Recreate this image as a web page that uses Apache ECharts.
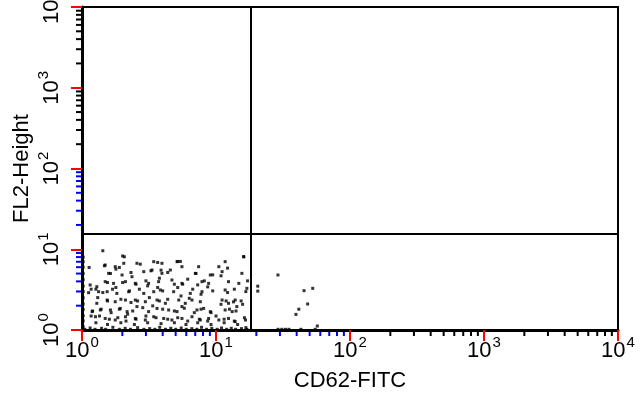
<!DOCTYPE html>
<html>
<head>
<meta charset="utf-8">
<script src="https://cdn.jsdelivr.net/npm/echarts@6/dist/echarts.min.js"></script>
<style>
  html, body { margin: 0; padding: 0; background: #fff; }
  #chart { width: 640px; height: 408px; }
</style>
</head>
<body>
<div id="chart"></div>
<script>
// CD62-FITC (x) / FL2-Height (y) events
const lowerLeft = [
  [1.43, 9.58], [2.07, 8.07], [2.72, 6.54], [3.67, 6.86], [5.18, 7.06], [5.42, 7.06],
  [16.1, 8.07], [1.47, 6.24], [1.90, 5.94], [1.79, 5.67], [2.32, 5.15], [1.63, 5.01],
  [3.27, 5.41], [3.89, 5.51], [4.36, 5.15], [7.09, 5.01], [9.45, 4.82], [6.15, 4.26],
  [8.18, 4.06], [10.9, 4.69], [12.2, 5.84], [1.13, 5.94], [1.55, 3.87], [2.01, 3.87],
  [2.53, 3.69], [3.00, 4.06], [3.78, 4.38], [4.89, 3.69], [5.64, 3.69], [7.30, 3.62],
  [17.2, 4.06], [1.17, 3.20], [1.27, 3.20], [1.43, 2.91], [1.69, 3.20], [1.79, 3.36],
  [2.26, 3.05], [2.68, 3.20], [3.09, 3.52], [3.67, 3.36], [4.00, 3.05], [5.18, 3.36],
  [6.70, 3.20], [8.67, 3.42], [12.2, 2.91], [13.7, 3.20], [16.7, 2.99], [1.31, 2.52],
  [1.55, 2.29], [1.95, 2.40], [2.32, 2.19], [2.60, 2.29], [3.18, 2.52], [3.78, 2.29],
  [4.36, 2.40], [5.48, 2.64], [6.32, 2.47], [7.73, 2.77], [9.45, 3.05], [11.9, 2.29],
  [13.5, 2.23], [15.4, 2.29], [1.20, 1.72], [1.39, 1.81], [1.65, 1.64], [1.90, 1.81],
  [2.19, 1.57], [2.39, 1.72], [2.84, 1.89], [3.37, 1.99], [4.00, 1.81], [4.89, 1.72],
  [5.80, 1.86], [6.89, 1.64], [7.73, 1.81], [9.18, 1.64], [10.9, 2.08], [12.6, 1.81],
  [14.1, 1.72], [15.8, 2.08], [1.17, 1.49], [1.35, 1.49], [1.60, 1.36], [1.85, 1.42],
  [2.13, 1.29], [2.53, 1.36], [3.00, 1.49], [3.57, 1.42], [4.36, 1.36], [5.18, 1.42],
  [6.15, 1.29], [7.51, 1.36], [8.67, 1.29], [10.0, 1.49], [11.5, 1.36], [13.7, 1.29],
  [16.3, 1.42], [1.27, 1.23], [1.55, 1.17], [1.95, 1.23], [2.46, 1.17], [3.09, 1.23],
  [3.89, 1.20], [4.89, 1.23], [5.97, 1.17], [7.30, 1.23], [9.18, 1.17], [11.5, 1.23],
  [14.5, 1.17], [16.7, 1.07]
]
const lowerLeftMore = [
  [2.01, 8.25], [1.49, 6.38], [1.77, 6.08], [2.05, 6.70], [2.57, 6.70], [3.43, 7.02],
  [3.95, 6.70], [5.12, 7.02], [5.57, 6.08], [7.42, 6.08], [10.5, 6.08], [16.1, 8.09],
  [11.7, 7.02], [1.58, 5.03], [1.99, 4.80], [2.36, 4.57], [2.89, 5.28], [3.33, 5.53],
  [3.95, 5.03], [4.56, 5.53], [7.01, 5.03], [9.07, 4.80], [11.1, 5.28], [15.6, 5.03],
  [1.49, 3.97], [1.72, 3.78], [2.11, 3.97], [2.50, 3.78], [3.14, 3.78], [3.73, 3.97],
  [4.69, 4.16], [5.57, 3.78], [7.86, 3.97], [8.81, 3.78], [12.4, 3.97], [14.8, 3.78],
  [1.15, 3.61], [1.29, 3.44], [1.12, 2.90], [1.33, 2.98], [1.54, 2.98], [1.82, 2.84],
  [2.23, 2.98], [2.89, 2.84], [3.43, 2.98], [3.84, 3.13], [4.83, 2.98], [6.43, 2.84],
  [7.86, 2.98], [11.7, 3.13], [17.0, 3.28], [1.29, 2.14], [1.54, 2.35], [1.77, 2.24],
  [2.11, 2.35], [2.50, 2.35], [2.97, 2.24], [3.63, 2.35], [4.19, 2.14], [5.27, 2.35],
  [5.90, 2.14], [6.62, 2.35], [7.64, 2.24], [11.1, 2.35], [12.4, 2.14], [13.9, 2.35],
  [1.19, 1.69], [1.37, 1.77], [1.63, 1.77], [1.93, 1.85], [2.17, 1.69], [2.57, 1.95],
  [3.14, 1.69], [3.63, 1.85], [4.43, 1.77], [5.12, 1.69], [5.57, 1.95], [7.21, 1.77],
  [8.09, 1.85], [9.07, 1.69], [11.7, 1.77], [13.2, 1.69], [14.3, 1.95], [1.26, 1.46],
  [1.49, 1.39], [1.77, 1.33], [2.11, 1.46], [2.50, 1.39], [2.97, 1.33], [3.43, 1.46],
  [4.07, 1.39], [4.69, 1.33], [5.57, 1.39], [6.62, 1.46], [7.64, 1.33], [8.81, 1.39],
  [10.5, 1.33], [12.4, 1.39], [13.9, 1.27], [16.6, 1.33]
]

// events piled on the axes (off-scale low)
const bottomEdge = [
  [1.05, 1.02], [1.15, 1.06], [1.25, 1.02], [1.4, 1.05], [1.5, 1.02], [1.7, 1.08],
  [1.9, 1.02], [2.1, 1.05], [2.3, 1.02], [2.6, 1.07], [2.9, 1.02], [3.2, 1.04],
  [3.5, 1.02], [3.8, 1.08], [4.2, 1.02], [4.6, 1.05], [5.0, 1.02], [5.5, 1.06],
  [6.0, 1.02], [6.6, 1.04], [7.2, 1.02], [7.8, 1.08], [8.5, 1.02], [9.3, 1.05],
  [10.2, 1.02], [11.0, 1.06], [12.0, 1.02], [13.0, 1.05], [14.0, 1.02], [15.5, 1.04],
  [17.0, 1.02], [29.0, 1.02], [31.0, 1.02], [33.0, 1.02], [35.0, 1.02], [43.0, 1.02],
  [55.0, 1.02]
]
const leftEdge = [
  [1.02, 1.1], [1.02, 1.3], [1.02, 1.5], [1.02, 1.8], [1.02, 2.1], [1.02, 2.5],
  [1.02, 3.0], [1.02, 3.5], [1.02, 4.2], [1.02, 5.0], [1.02, 6.0], [1.02, 7.0], [1.02, 8.0]
]
const lowerRight = [
  [20.5, 3.49], [20.5, 3.03], [29.0, 4.8], [45.4, 3.07], [52.7, 3.28], [48.3, 2.10],
  [41.5, 1.81], [39.5, 1.56], [57.0, 1.12]
]

// quadrant gate
const gateX = 18.2
const gateY = 15.5

// tick positions of the log axes
const decades = [1, 10, 100, 1000, 10000]
const minorTicks = [
  2, 3, 4, 5, 6, 7, 8, 9,
  20, 30, 40, 50, 60, 70, 80, 90,
  200, 300, 400, 500, 600, 700, 800, 900,
  2000, 3000, 4000, 5000, 6000, 7000, 8000, 9000
]

const font = 'Liberation Sans, Arial, sans-serif'
const decadeLabel = v => '{b|10}{s|' + Math.round(Math.log10(v)) + '}'
const labelRich = {
  b: { fontSize: 22, lineHeight: 22, fill: '#000', color: '#000', fontFamily: font, verticalAlign: 'bottom' },
  s: { fontSize: 15, lineHeight: 15, fill: '#000', color: '#000', fontFamily: font, verticalAlign: 'bottom', padding: [0, 0, 12, 1] }
}

function logAxis (name, extra) {
  return Object.assign({
    type: 'log',
    min: 1,
    max: 10000,
    name: name,
    nameLocation: 'middle',
    nameTextStyle: { fontSize: 22, color: '#000', fontFamily: font },
    axisLine: { lineStyle: { color: '#000', width: 3 } },
    axisTick: { show: true, length: 11, lineStyle: { color: '#f00', width: 2 } },
    splitLine: { show: false }
  }, extra)
}

const chart = echarts.init(document.getElementById('chart'))
chart.setOption({
  animation: false,
  grid: {
    left: 82, right: 22, top: 7, bottom: 78,
    outerBoundsMode: 'none',
    show: true, borderColor: '#000', borderWidth: 2
  },
  xAxis: logAxis('CD62-FITC', {
    nameGap: 40,
    axisLabel: { margin: 10, formatter: decadeLabel, rich: labelRich }
  }),
  // y 轴刻度文字旋转后用 graphic 画
  yAxis: logAxis('FL2-Height', {
    nameGap: 49,
    axisLabel: { show: false }
  }),
  series: [
    {
      type: 'scatter',
      symbol: 'rect',
      symbolSize: 3,
      itemStyle: { color: '#000' },
      data: lowerLeft.concat(lowerLeftMore, bottomEdge, leftEdge, lowerRight),
      markLine: {
        silent: true,
        symbol: 'none',
        label: { show: false },
        lineStyle: { color: '#000', width: 2, type: 'solid' },
        data: [{ xAxis: gateX }, { yAxis: gateY }]
      }
    }
  ]
})

// minor ticks and rotated y labels, placed through the axes
const extras = []
minorTicks.forEach((v, i) => {
  const px = chart.convertToPixel({ gridIndex: 0 }, [v, 1])
  const py = chart.convertToPixel({ gridIndex: 0 }, [1, v])
  extras.push({
    type: 'line', silent: true,
    shape: { x1: px[0], y1: px[1], x2: px[0], y2: px[1] + 6 },
    style: { stroke: i < 16 ? '#00f' : '#000', lineWidth: 2 }
  })
  extras.push({
    type: 'line', silent: true,
    shape: { x1: py[0], y1: py[1], x2: py[0] - 6, y2: py[1] },
    style: { stroke: i < 16 ? '#00f' : '#000', lineWidth: 2 }
  })
})
decades.forEach(v => {
  const p = chart.convertToPixel({ gridIndex: 0 }, [1, v])
  extras.push({
    type: 'text', silent: true,
    x: p[0] - 19, y: p[1],
    rotation: Math.PI / 2,
    style: { text: decadeLabel(v), rich: labelRich, align: 'center', verticalAlign: 'bottom' }
  })
})
chart.setOption({ graphic: extras })
</script>
</body>
</html>
